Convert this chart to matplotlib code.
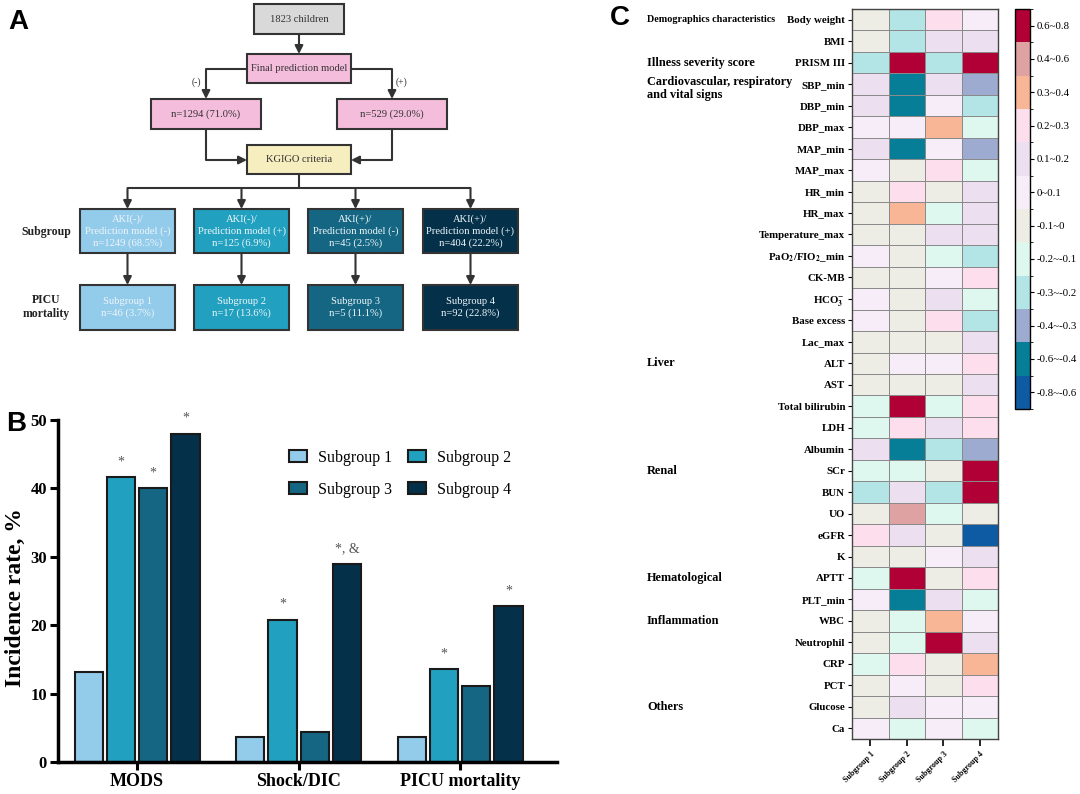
import numpy as np
import matplotlib
matplotlib.use("Agg")
import matplotlib.pyplot as plt
from matplotlib.patches import Rectangle
from matplotlib.colors import ListedColormap, BoundaryNorm

plt.rcParams['font.family'] = ['Liberation Serif', 'DejaVu Serif']
plt.rcParams['mathtext.fontset'] = 'stix'

W, H = 1080, 794

# ---- panel A: flowchart text ----
top_box = "1823 children"
model_box = "Final prediction model"
split_boxes = ["n=1294 (71.0%)", "n=529 (29.0%)"]
criteria_box = "KGIGO criteria"
subgroup_boxes = ["AKI(-)/\nPrediction model (-)\nn=1249 (68.5%)",
                  "AKI(-)/\nPrediction model (+)\nn=125 (6.9%)",
                  "AKI(+)/\nPrediction model (-)\nn=45 (2.5%)",
                  "AKI(+)/\nPrediction model (+)\nn=404 (22.2%)"]
mortality_boxes = ["Subgroup 1\nn=46 (3.7%)", "Subgroup 2\nn=17 (13.6%)",
                   "Subgroup 3\nn=5 (11.1%)", "Subgroup 4\nn=92 (22.8%)"]

# ---- panel B: incidence rates ----
outcomes = ["MODS", "Shock/DIC", "PICU mortality"]
groups = ["Subgroup 1", "Subgroup 2", "Subgroup 3", "Subgroup 4"]
rate_s1 = [13.1, 3.7, 3.6]
rate_s2 = [41.6, 20.8, 13.6]
rate_s3 = [40.0, 4.4, 11.1]
rate_s4 = [48.0, 28.9, 22.8]
marks_s1 = ["", "", ""]
marks_s2 = ["*", "*", "*"]
marks_s3 = ["*", "", ""]
marks_s4 = ["*", "*, &", "*"]
group_colors = ["#93cbeb", "#21a0bf", "#156683", "#04304a"]

# ---- panel C: correlation heatmap ----
variables = ["Body weight", "BMI", "PRISM III", "SBP_min", "DBP_min", "DBP_max",
             "MAP_min", "MAP_max", "HR_min", "HR_max", "Temperature_max",
             r"PaO$_\mathbf{2}$/FIO$_\mathbf{2}$_min", "CK-MB", r"HCO$_\mathbf{3}^{-}$",
             "Base excess", "Lac_max", "ALT", "AST", "Total bilirubin", "LDH",
             "Albumin", "SCr", "BUN", "UO", "eGFR", "K", "APTT", "PLT_min", "WBC",
             "Neutrophil", "CRP", "PCT", "Glucose", "Ca"]
corr = [
    [-0.05, -0.25, 0.25, 0.05],
    [-0.05, -0.25, 0.15, 0.15],
    [-0.25, 0.70, -0.25, 0.70],
    [0.15, -0.50, 0.15, -0.35],
    [0.15, -0.50, 0.05, -0.25],
    [0.05, 0.05, 0.35, -0.15],
    [0.15, -0.50, 0.05, -0.35],
    [0.05, -0.05, 0.25, -0.15],
    [-0.05, 0.25, -0.05, 0.15],
    [-0.05, 0.35, -0.15, 0.15],
    [-0.05, -0.05, 0.15, 0.15],
    [0.05, -0.05, -0.15, -0.25],
    [-0.05, -0.05, 0.05, 0.25],
    [0.05, -0.05, 0.15, -0.15],
    [0.05, -0.05, 0.25, -0.25],
    [-0.05, -0.05, -0.05, 0.15],
    [-0.05, 0.05, 0.05, 0.25],
    [-0.05, -0.05, -0.05, 0.15],
    [-0.15, 0.70, -0.15, 0.25],
    [-0.15, 0.25, 0.15, 0.25],
    [0.15, -0.50, -0.25, -0.35],
    [-0.15, -0.15, -0.05, 0.70],
    [-0.25, 0.15, -0.25, 0.70],
    [-0.05, 0.50, -0.15, -0.05],
    [0.25, 0.15, -0.05, -0.70],
    [-0.05, -0.05, 0.05, 0.15],
    [-0.15, 0.70, -0.05, 0.25],
    [0.05, -0.50, 0.15, -0.15],
    [-0.05, -0.15, 0.35, 0.05],
    [-0.05, -0.15, 0.70, 0.15],
    [-0.15, 0.25, -0.05, 0.35],
    [-0.05, 0.05, -0.05, 0.25],
    [-0.05, 0.15, 0.05, 0.05],
    [0.05, -0.15, 0.05, -0.15],
]
categories = [("Demographics characteristics", 0), ("Illness severity score", 2),
              ("Cardiovascular, respiratory\nand vital signs", 3), ("Liver", 16),
              ("Renal", 21), ("Hematological", 26), ("Inflammation", 28), ("Others", 32)]
bounds = [-0.8, -0.6, -0.4, -0.3, -0.2, -0.1, 0, 0.1, 0.2, 0.3, 0.4, 0.6, 0.8]
bin_labels = ["-0.8~-0.6", "-0.6~-0.4", "-0.4~-0.3", "-0.3~-0.2", "-0.2~-0.1", "-0.1~0",
              "0~0.1", "0.1~0.2", "0.2~0.3", "0.3~0.4", "0.4~0.6", "0.6~0.8"]
bin_colors = ["#0e5ba3", "#067e97", "#9eabd0", "#b3e4e6", "#def8f0", "#edede6",
              "#f7edf8", "#ece0f0", "#fddeed", "#f8b696", "#dea2a2", "#b10036"]


def px(x0, y0, x1, y1):
    return [x0 / W, 1 - y1 / H, (x1 - x0) / W, (y1 - y0) / H]


fig = plt.figure(figsize=(W / 100, H / 100), dpi=100)

# ================= A =================
axa = fig.add_axes(px(0, 0, 560, 340))
axa.set_xlim(0, 560)
axa.set_ylim(340, 0)
axa.axis('off')
LC = '#333333'


def box(x0, y0, x1, y1, text, fc, tc='#333333', size=7.6):
    axa.add_patch(Rectangle((x0, y0), x1 - x0, y1 - y0, fc=fc, ec=LC, lw=1.5))
    axa.text((x0 + x1) / 2, (y0 + y1) / 2, text, ha='center', va='center',
             fontsize=size, color=tc, linespacing=1.35)


def line(pts):
    xs, ys = zip(*pts)
    axa.plot(xs, ys, color=LC, lw=1.5, solid_capstyle='butt')


def arrow(x0, y0, x1, y1):
    axa.annotate('', xy=(x1, y1), xytext=(x0, y0),
                 arrowprops=dict(arrowstyle='-|>', color=LC, lw=1.5,
                                 mutation_scale=12, shrinkA=0, shrinkB=0))


box(254, 4, 344, 34, top_box, '#d9d9d9')
arrow(299, 34, 299, 54)
box(247, 54, 351, 83, model_box, '#f5bddc')
line([(247, 69), (206, 69)])
arrow(206, 69, 206, 99)
line([(351, 69), (392, 69)])
arrow(392, 69, 392, 99)
axa.text(196, 82, "(-)", ha='center', va='center', fontsize=7, color=LC)
axa.text(402, 82, "(+)", ha='center', va='center', fontsize=7, color=LC)
box(151, 99, 261, 129, split_boxes[0], '#f5bddc')
box(337, 99, 447, 129, split_boxes[1], '#f5bddc')
line([(206, 129), (206, 160)])
arrow(206, 160, 247, 160)
line([(392, 129), (392, 160)])
arrow(392, 160, 351, 160)
box(247, 145, 351, 174, criteria_box, '#f6eebf')
line([(299, 174), (299, 188)])
centers = [127.5, 241.5, 355.5, 470.5]
line([(centers[0], 188), (centers[-1], 188)])
for cx, t1, t2, c in zip(centers, subgroup_boxes, mortality_boxes, group_colors):
    arrow(cx, 188, cx, 209)
    box(cx - 47.5, 209, cx + 47.5, 253, t1, c, tc='#eef6fa')
    arrow(cx, 253, cx, 285)
    box(cx - 47.5, 285, cx + 47.5, 330, t2, c, tc='#eef6fa')
axa.text(46, 232, "Subgroup", ha='center', va='center', fontsize=8.5,
         fontweight='bold', color='#222222')
axa.text(46, 307, "PICU\nmortality", ha='center', va='center', fontsize=8.5,
         fontweight='bold', color='#222222', linespacing=1.3)

# ================= B =================
axb = fig.add_axes(px(58, 420, 557, 762))
x = np.arange(len(outcomes))
bw, step = 0.175, 0.2
rates = [rate_s1, rate_s2, rate_s3, rate_s4]
marks = [marks_s1, marks_s2, marks_s3, marks_s4]
handles = []
for i, (vals, mk, c, g) in enumerate(zip(rates, marks, group_colors, groups)):
    pos = x + (i - 1.5) * step
    b = axb.bar(pos, vals, width=bw, color=c, edgecolor='#1a1a1a', lw=1.5, label=g)
    handles.append(b)
    for p, v, m in zip(pos, vals, mk):
        if m:
            axb.text(p, v + 1.3, m, ha='center', va='bottom', fontsize=10, color='#555555')
axb.set_xlim(-0.49, 2.6)
axb.set_ylim(0, 50)
axb.set_yticks([0, 10, 20, 30, 40, 50])
axb.set_xticks(x)
axb.set_xticklabels(outcomes, fontsize=13, fontweight='bold')
for lab in axb.get_yticklabels():
    lab.set_fontweight('bold')
    lab.set_fontsize(12)
axb.tick_params(axis='both', width=2.2, length=6, pad=2)
axb.spines['top'].set_visible(False)
axb.spines['right'].set_visible(False)
axb.spines['left'].set_linewidth(2.5)
axb.spines['bottom'].set_linewidth(2.5)
axb.set_ylabel("Incidence rate, %", fontsize=17, fontweight='bold')
axb.yaxis.set_label_coords(-0.064, 0.48)
axb.legend([handles[0], handles[2], handles[1], handles[3]],
           [groups[0], groups[2], groups[1], groups[3]],
           ncol=2, frameon=False, fontsize=11.5, loc='upper left',
           bbox_to_anchor=(0.435, 0.955), handlelength=1.1, handleheight=0.8,
           columnspacing=1.0, labelspacing=1.0, handletextpad=0.7)

# ================= C =================
axc = fig.add_axes(px(852, 9, 998, 739))
cmap = ListedColormap(bin_colors)
norm = BoundaryNorm(bounds, cmap.N)
data = np.array(corr)
mesh = axc.pcolormesh(np.arange(5), np.arange(len(variables) + 1), data, cmap=cmap,
                      norm=norm, edgecolors='#8a8a8a', linewidth=0.6)
axc.set_ylim(len(variables), 0)
axc.set_xlim(0, 4)
axc.set_yticks(np.arange(len(variables)) + 0.5)
axc.set_yticklabels(variables, fontsize=7.8, fontweight='bold')
axc.set_xticks(np.arange(4) + 0.5)
axc.set_xticklabels(groups, fontsize=5.8, fontweight='bold', rotation=45,
                    ha='right', rotation_mode='anchor')
axc.tick_params(axis='y', length=3, width=0.8, pad=2)
axc.tick_params(axis='x', length=5, width=1.2, pad=3)
for s in axc.spines.values():
    s.set_linewidth(1.0)
    s.set_color('#444444')

# category labels sit in a fixed pixel column left of the tick labels
trans = matplotlib.transforms.blended_transform_factory(fig.transFigure, axc.transData)
for name, row in categories:
    size = 7.3 if row == 0 else 8.8
    if '\n' in name:
        axc.text(647 / W, row + 0.1, name, transform=trans, fontsize=size,
                 fontweight='bold', va='top', ha='left', linespacing=1.15)
    else:
        axc.text(647 / W, row + 0.5, name, transform=trans, fontsize=size,
                 fontweight='bold', va='center', ha='left')

cax = fig.add_axes(px(1015, 9, 1030, 409))
cb = fig.colorbar(mesh, cax=cax, ticks=[(a + b) / 2 for a, b in zip(bounds[:-1], bounds[1:])])
cb.set_ticklabels(bin_labels)
cb.ax.tick_params(labelsize=7.8, length=3, width=0.8, pad=2)
cb.outline.set_linewidth(1.0)

fig.text(8 / W, 1 - 22 / H, "A", fontsize=20, fontweight='bold', family='Liberation Sans', va='center')
fig.text(6 / W, 1 - 424 / H, "B", fontsize=20, fontweight='bold', family='Liberation Sans', va='center')
fig.text(610 / W, 1 - 18 / H, "C", fontsize=20, fontweight='bold', family='Liberation Sans', va='center')

fig.savefig("out.png", dpi=100)
